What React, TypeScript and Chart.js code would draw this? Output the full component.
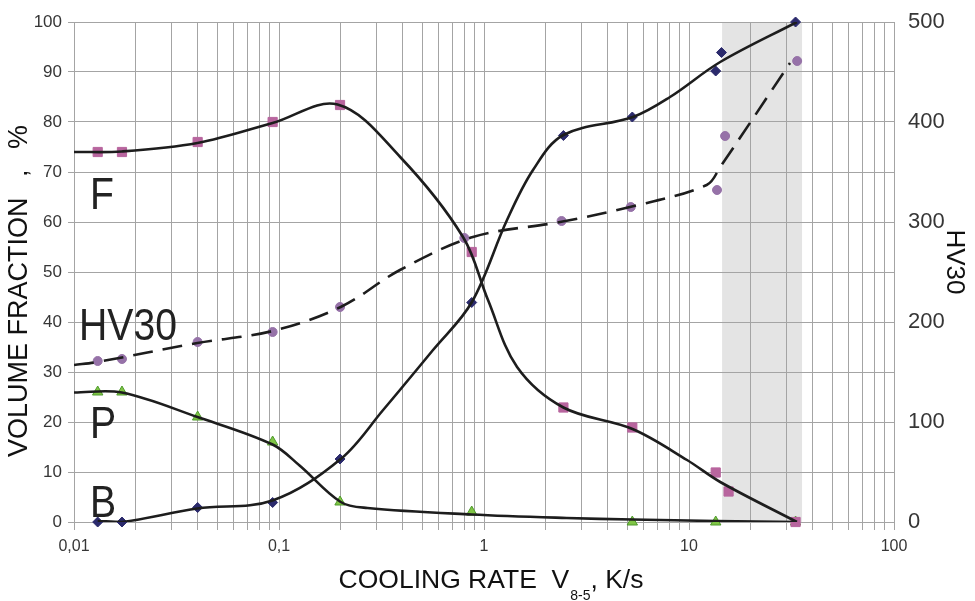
import React, { useEffect, useRef } from 'react';
import { Chart, registerables } from 'chart.js';

Chart.register(...registerables);

// ---- axis ticks ----
const X_DECADES = [0.01, 0.1, 1, 10, 100];
const X_DECADE_LABELS = ['0,01', '0,1', '1', '10', '100'];

// ---- measured points ----
// Ferrite (F), volume %
const F_X = [0.01305, 0.01714, 0.0401, 0.0931, 0.1985, 0.871, 2.44, 5.29, 13.5, 15.6, 33.1];
const F_Y = [74, 74, 76, 80, 83.4, 54, 22.9, 18.9, 9.9, 6.1, 0];
// Pearlite (P), volume %
const P_X = [0.01305, 0.01714, 0.0401, 0.0931, 0.1985, 0.871, 5.29, 13.5, 33.1];
const P_Y = [26, 26, 21, 16, 4, 2, 0, 0, 0];
// Bainite (B), volume %
const B_X = [0.01305, 0.01714, 0.0401, 0.0931, 0.1985, 0.871, 2.44, 5.29, 13.5, 14.4, 33.1];
const B_Y = [0, 0, 2.9, 3.9, 12.6, 43.9, 77.3, 81, 90.2, 93.9, 100];
// Hardness HV30 (right axis)
const HV_X = [0.01305, 0.01714, 0.0401, 0.0931, 0.1985, 0.802, 2.39, 5.2, 13.7, 15.0, 33.7];
const HV_Y = [161, 163, 180, 190, 215, 284, 301, 315, 332, 386, 461];

// ---- fitted curves ----
const F_FIT_X = [0.01, 0.0171, 0.04, 0.093, 0.193, 0.39, 0.79, 1.046, 1.45, 2.44, 5.3, 9.78, 14.2, 33.6];
const F_FIT_Y = [74, 74.1, 75.8, 79.8, 83.5, 73, 57, 44.4, 31, 22.9, 18.6, 12.4, 8, 0];
const P_FIT_X = [0.01, 0.0171, 0.04, 0.093, 0.126, 0.2, 0.27, 0.87, 2.53, 5.3, 13.5, 33.6];
const P_FIT_Y = [25.9, 25.9, 21, 15.5, 11.3, 4, 2.8, 1.5, 0.8, 0.5, 0.2, 0];
const B_FIT_X = [0.01305, 0.01714, 0.04, 0.093, 0.2, 0.322, 0.564, 0.87, 1.295, 1.734, 2.44, 5.33, 8.08, 14.2, 33.6];
const B_FIT_Y = [0.2, 0, 2.7, 4.3, 12.6, 22.4, 34.4, 43.9, 60.4, 70.4, 77.4, 81, 85, 92, 100];
const HV_FIT_X = [0.01, 0.013, 0.04, 0.093, 0.2, 0.389, 0.883, 2.35, 5.15, 12.2, 14.2, 31.1];
const HV_FIT_Y = [157, 160, 179, 191, 215, 252, 285, 300, 315, 337, 355, 459];

// shaded band (cooling rate range)
const BAND = [14.5, 35.6];

// in-plot labels
const LABELS = ['F', 'HV30', 'P', 'B'];
const LABEL_X = [0.01197, 0.01058, 0.01197, 0.01197];
const LABEL_Y = [62.6, 36.4, 16.8, 1];

const FONT = "'Liberation Sans', Arial, sans-serif";
const GRID = '#a4a4a4';
const TICK = '#363636';
const LINE = '#1d1d1d';

const pts = (xs: number[], ys: number[]) => xs.map((x, i) => ({ x, y: ys[i] }));

const customPlugin = {
  id: 'custom',
  beforeDraw(chart: any) {
    const { ctx, chartArea, scales } = chart;
    const x0 = scales.x.getPixelForValue(BAND[0]);
    const x1 = scales.x.getPixelForValue(BAND[1]);
    ctx.save();
    ctx.fillStyle = '#e4e4e4';
    ctx.fillRect(x0, chartArea.top, x1 - x0, chartArea.bottom - chartArea.top);
    ctx.restore();
  },
  afterDraw(chart: any) {
    const { ctx, chartArea, scales } = chart;
    ctx.save();
    ctx.fillStyle = '#111';
    // in-plot labels
    LABELS.forEach((t, i) => {
      const px = scales.x.getPixelForValue(LABEL_X[i]);
      const py = scales.y.getPixelForValue(LABEL_Y[i]);
      ctx.save();
      ctx.translate(px, py);
      ctx.scale(0.87, 1);
      ctx.font = `45px ${FONT}`;
      ctx.textAlign = 'left';
      ctx.textBaseline = 'alphabetic';
      ctx.fillStyle = '#222';
      ctx.fillText(t, 0, 0);
      ctx.restore();
    });

    // bottom title with subscript
    const main = 'COOLING RATE  V';
    const sub = '8-5';
    const rest = ', K/s';
    ctx.textBaseline = 'alphabetic';
    ctx.textAlign = 'left';
    ctx.font = `26.5px ${FONT}`;
    const wMain = ctx.measureText(main).width;
    const wRest = ctx.measureText(rest).width;
    ctx.font = `14px ${FONT}`;
    const wSub = ctx.measureText(sub).width;
    const total = wMain + wSub + 1 + wRest;
    const cx = (chartArea.left + chartArea.right) / 2 + 7;
    let sx = cx - total / 2;
    const base = 588;
    ctx.font = `26.5px ${FONT}`;
    ctx.fillText(main, sx, base);
    sx += wMain + 1;
    ctx.font = `14px ${FONT}`;
    ctx.fillText(sub, sx, base + 12);
    sx += wSub;
    ctx.font = `26.5px ${FONT}`;
    ctx.fillText(rest, sx, base);

    // left title
    ctx.font = `27px ${FONT}`;
    ctx.save();
    ctx.translate(27, 457);
    ctx.rotate(-Math.PI / 2);
    ctx.textAlign = 'left';
    ctx.fillText('VOLUME FRACTION', 0, 0);
    ctx.restore();
    ctx.save();
    ctx.translate(27, 177);
    ctx.rotate(-Math.PI / 2);
    ctx.textAlign = 'left';
    ctx.fillText(',', 0, 0);
    ctx.restore();
    ctx.save();
    ctx.translate(27, 125);
    ctx.rotate(-Math.PI / 2);
    ctx.textAlign = 'right';
    ctx.fillText('%', 0, 0);
    ctx.restore();

    // right title
    ctx.font = `26px ${FONT}`;
    ctx.save();
    ctx.translate(956, 262);
    ctx.rotate(Math.PI / 2);
    ctx.textAlign = 'center';
    ctx.fillText('HV30', 0, 9);
    ctx.restore();

    ctx.restore();
  },
};

export default function App() {
  const ref = useRef<HTMLCanvasElement>(null);
  useEffect(() => {
    document.body.style.margin = '0';
    const canvas = ref.current;
    if (!canvas) return;
    const lineDs = (data: any[], yAxisID: string, dashed = false) => ({
      type: 'line',
      data,
      yAxisID,
      showLine: true,
      pointRadius: 0,
      borderColor: LINE,
      borderWidth: 2.6,
      borderDash: dashed ? [20, 10] : [],
      tension: 0.35,
      fill: false,
      order: 0,
    });
    const markDs = (data: any[], yAxisID: string, style: string, radius: number, bg: string, border: string) => ({
      type: 'line',
      data,
      yAxisID,
      showLine: false,
      pointStyle: style,
      pointRadius: radius,
      pointBackgroundColor: bg,
      pointBorderColor: border,
      pointBorderWidth: 1,
      clip: false,
      order: 1,
    });
    const chart = new Chart(canvas, {
      type: 'line',
      data: {
        datasets: [
          markDs(pts(F_X, F_Y), 'y', 'rect', 6.5, '#b8659e', '#b8659e'),
          markDs(pts(B_X, B_Y), 'y', 'rectRot', 5, '#2b2a6c', '#2b2a6c'),
          markDs(pts(HV_X, HV_Y), 'y2', 'circle', 4.5, '#9672a8', '#9672a8'),
          markDs(pts(P_X, P_Y), 'y', 'triangle', 6, '#80c545', '#4e9a2c'),
          lineDs(pts(F_FIT_X, F_FIT_Y), 'y'),
          lineDs(pts(P_FIT_X, P_FIT_Y), 'y'),
          lineDs(pts(B_FIT_X, B_FIT_Y), 'y'),
          lineDs(pts(HV_FIT_X, HV_FIT_Y), 'y2', true),
        ] as any,
      },
      options: {
        responsive: false,
        animation: false,
        events: [],
        layout: { padding: { top: 22, left: 0, right: 0, bottom: 0 } },
        plugins: { legend: { display: false }, tooltip: { enabled: false } },
        scales: {
          x: {
            type: 'logarithmic',
            min: 0.01,
            max: 100,
            afterBuildTicks: (scale: any) => {
              const ticks: any[] = [];
              for (let d = 0; d < X_DECADES.length - 1; d++) {
                for (let m = 1; m <= 9; m++) ticks.push({ value: +(X_DECADES[d] * m).toPrecision(6) });
              }
              ticks.push({ value: X_DECADES[X_DECADES.length - 1] });
              scale.ticks = ticks;
            },
            afterFit: (scale: any) => {
              scale.height = 79;
            },
            grid: { color: GRID, lineWidth: 1, tickLength: 8, drawTicks: true },
            border: { color: GRID },
            ticks: {
              autoSkip: false,
              maxRotation: 0,
              padding: 7,
              color: TICK,
              font: { family: FONT, size: 16 },
              callback: (value: any) => {
                const i = X_DECADES.findIndex((d) => Math.abs(d - Number(value)) < d * 1e-6);
                return i >= 0 ? X_DECADE_LABELS[i] : '';
              },
            },
          },
          y: {
            position: 'left',
            min: 0,
            max: 100,
            afterFit: (scale: any) => {
              scale.width = 74;
            },
            grid: { color: GRID, lineWidth: 1, tickLength: 6 },
            border: { color: GRID },
            ticks: { stepSize: 10, padding: 6, color: TICK, font: { family: FONT, size: 17 } },
          },
          y2: {
            position: 'right',
            min: 0,
            max: 500,
            afterFit: (scale: any) => {
              scale.width = 81;
            },
            grid: { display: false },
            border: { color: GRID },
            ticks: { stepSize: 100, padding: 6, color: TICK, font: { family: FONT, size: 22 } },
          },
        },
      } as any,
      plugins: [customPlugin],
    });
    return () => chart.destroy();
  }, []);
  return (
    <div style={{ position: 'absolute', left: 0, top: 0, width: 975, height: 601, background: '#fff' }}>
      <canvas ref={ref} width={975} height={601} style={{ width: 975, height: 601, display: 'block' }} />
    </div>
  );
}
